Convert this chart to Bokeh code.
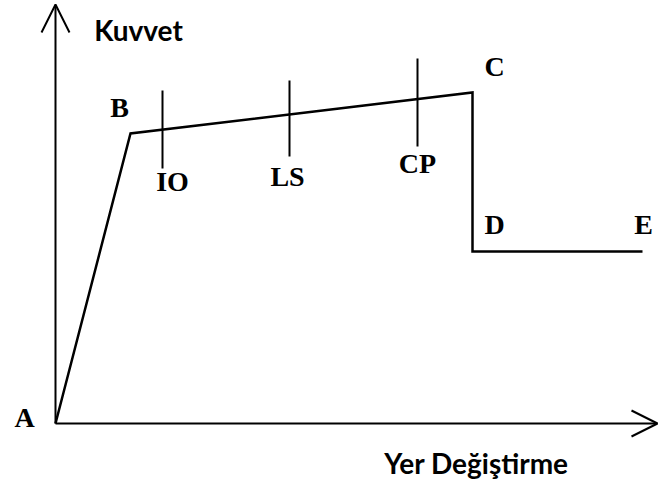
from bokeh.plotting import figure
from bokeh.models import Range1d, Arrow, OpenHead, ColumnDataSource
from bokeh.core.properties import value
from bokeh.embed import file_html
from bokeh.resources import INLINE

# Force-displacement backbone curve (arbitrary units)
point_names = ["A", "B", "C", "D", "E"]
displacement = [0, 75, 417, 417, 587]
force = [0, 290, 331, 172, 172]

# Performance levels on the B-C branch
level_names = ["IO", "LS", "CP"]
level_disp = [107, 234, 362]
level_top = [333, 343, 365]
level_bottom = [255, 267, 277]

x_axis_end = 602
y_axis_end = 419
x_title = "Yer Değiştirme"
y_title = "Kuvvet"

p = figure(width=658, height=484, output_backend="svg", toolbar_location=None,
           x_range=Range1d(-55, 603), y_range=Range1d(-61, 423),
           min_border=0, outline_line_color=None)
p.axis.visible = False
p.grid.visible = False

# axes with open arrow heads
p.add_layout(Arrow(end=OpenHead(size=26, line_width=2, line_color="black"),
                   x_start=0, y_start=0, x_end=x_axis_end, y_end=0,
                   line_width=2, line_color="black"))
p.add_layout(Arrow(end=OpenHead(size=28, line_width=2, line_color="black"),
                   x_start=0, y_start=0, x_end=0, y_end=y_axis_end,
                   line_width=2, line_color="black"))

# curve
p.line(displacement, force, line_width=2.5, line_color="black", line_join="miter")

# level ticks
p.segment(x0=level_disp, y0=level_bottom, x1=level_disp, y1=level_top,
          line_width=2, line_color="black")

serif = value("Liberation Serif")
sans = value("Lato")

pt_src = ColumnDataSource(dict(x=displacement, y=force, t=point_names,
                               dx=[-31, -11, 22, 22, 1], dy=[-6, -26, -26, -27, -27]))
p.text(x="x", y="y", text="t", source=pt_src, x_offset="dx", y_offset="dy",
       text_font=serif, text_font_style="bold", text_font_size="28px",
       text_align="center", text_baseline="middle", text_color="black")

lv_src = ColumnDataSource(dict(x=level_disp, y=level_bottom, t=level_names,
                               dx=[10, -2, 0], dy=[13, 20, 17]))
p.text(x="x", y="y", text="t", source=lv_src, x_offset="dx", y_offset="dy",
       text_font=serif, text_font_style="bold", text_font_size="28px",
       text_align="center", text_baseline="middle", text_color="black")

p.text(x=[83], y=[y_axis_end], text=[y_title], y_offset=[25],
       text_font=sans, text_font_style="bold", text_font_size="28px",
       text_align="center", text_baseline="middle", text_color="black")
p.text(x=[421], y=[0], text=[x_title], y_offset=[39],
       text_font=sans, text_font_style="bold", text_font_size="28px",
       text_align="center", text_baseline="middle", text_color="black")

open("out.html", "w").write(file_html(p, INLINE))
